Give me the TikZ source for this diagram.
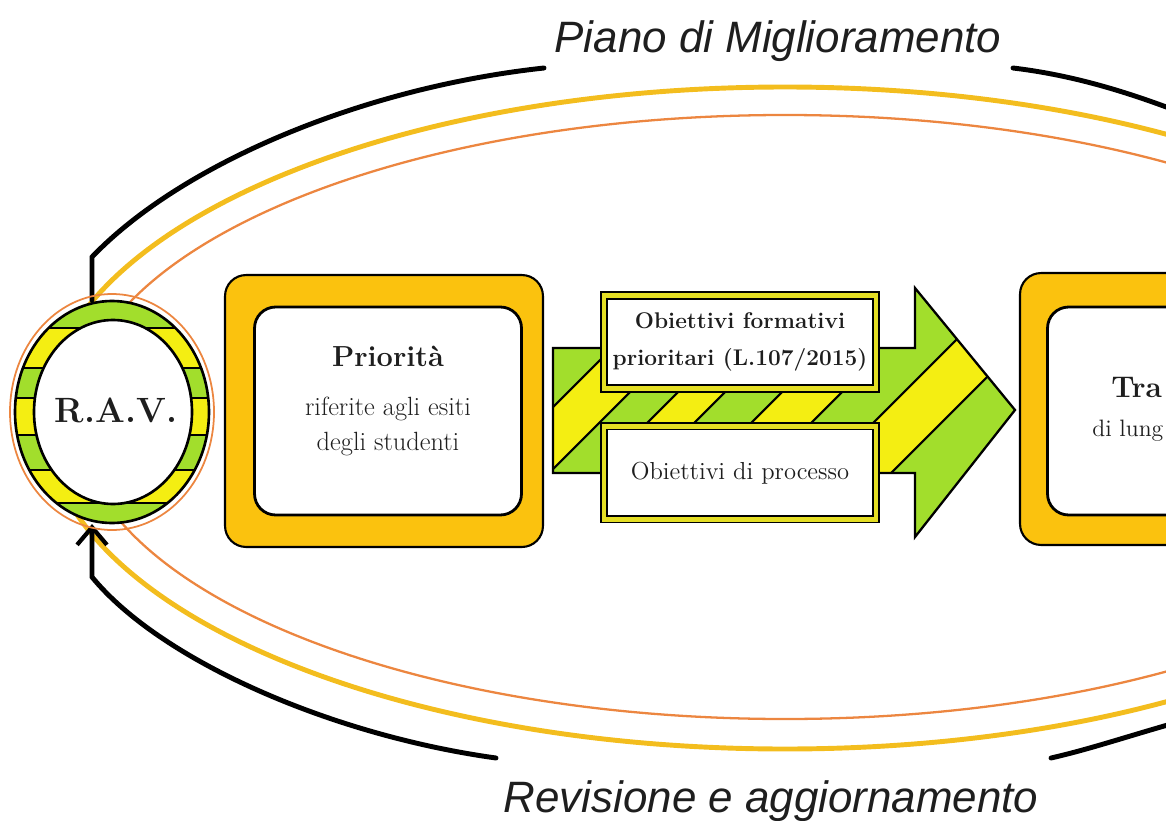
\documentclass[tikz,border=0pt]{standalone}
\usepackage{fontspec}
\newfontfamily\cyclefont{Liberation Sans}
\usetikzlibrary{arrows.meta,positioning,shapes.geometric}
\definecolor{frameyellow}{RGB}{251,194,14}
\definecolor{lime}{RGB}{162,222,44}
\definecolor{lemon}{RGB}{244,238,18}
\definecolor{bandyellow}{RGB}{228,222,36}
\definecolor{loopyellow}{RGB}{243,189,30}
\definecolor{looporange}{RGB}{236,134,64}
\definecolor{ink}{RGB}{30,30,30}
\tikzset{
    frame/.style={rectangle,rounded corners=12pt,draw,line width=1.2pt,fill=frameyellow,minimum width=6.36cm,minimum height=5.44cm},
    card/.style={rectangle,rounded corners=12pt,draw,line width=1.6pt,fill=white,minimum width=5.34cm,minimum height=4.16cm},
    cardtext/.style={align=center,text=ink,inner sep=0pt,font=\fontsize{15}{20}\selectfont},
    goal/.style={rectangle,draw,line width=1pt,double=bandyellow,double distance=2.6pt,fill=white,minimum width=5.44cm,minimum height=1.86cm,align=center,text=ink,font=\fontsize{14}{21}\selectfont},
    ravtext/.style={text=ink,inner sep=0pt,font=\bfseries\fontsize{20}{24}\selectfont},
    fragment/.style={anchor=base west,inner sep=0pt,text=ink},
    ringline/.style={line width=2.8pt},
    cycleline/.style={line width=2.8pt,line cap=round},
    back/.style={cycleline,-{Straight Barb[length=10pt,width=17pt,line width=2.4pt]}},
    caption/.style={anchor=base,text=ink,font=\cyclefont\itshape\fontsize{25}{30}\selectfont}
}

\begin{document}
\begin{tikzpicture}[x=0.02cm,y=-0.02cm]
    \useasboundingbox (0,0) rectangle (1166,821);
    \clip (0,0) rectangle (1166,821);

    % the two rings of the cycle
    \draw[ringline,loopyellow] (785,418) ellipse [x radius=740,y radius=331];
    \draw[ringline,looporange,line width=1.3pt] (785,417) ellipse [x radius=708,y radius=302];

    \coordinate (rav top)   at (92,300);
    \coordinate (rav foot)  at (92,524);
    \coordinate (plan left) at (544,68);
    \coordinate (plan right) at (1013,68);
    \coordinate (plan out)  at (1200,120);
    \coordinate (rev in)    at (1200,716);
    \coordinate (rev right) at (1051,758);
    \coordinate (rev left)  at (496,758);

    \node[caption] (plan) at (778,53)  {Piano di Miglioramento};
    \node[caption] (rev)  at (771,812) {Revisione e aggiornamento};

    \draw[cycleline] (rav top) -- ++(0,-43) .. controls (180,165) and (360,88) .. (plan left);
    \draw[cycleline] (plan right) .. controls (1080,76) and (1140,96) .. (plan out);
    \draw[cycleline] (rev in) .. controls (1140,732) and (1095,748) .. (rev right);
    \draw[back] (rev left) .. controls (330,735) and (160,660) .. (92,577) -- (rav foot);

    % striped ring
    \begin{scope}
        \clip (112,412) ellipse [x radius=97,y radius=111];
        \foreach \lo/\hi/\col in {290/328/lime,328/368/lemon,368/398/lime,398/435/lemon,435/470/lime,470/503/lemon,503/535/lime}
            \fill[\col] (0,\lo) rectangle (230,\hi);
        \foreach \y in {328,368,398,435,470,503}
            \draw[line width=1.3pt] (0,\y) -- (230,\y);
    \end{scope}
    \draw[line width=1.5pt] (112,412) ellipse [x radius=97,y radius=111];
    \draw[looporange,line width=1pt] (112,412) ellipse [x radius=102,y radius=118];
    \draw[line width=1.5pt,fill=white] (113,412) ellipse [x radius=79,y radius=92];
    \node[ravtext] (rav) at (116,410) {R.A.V.};

    \node[frame] (prio frame) at (384,411) {};
    \node[card]  (prio card) at (388,411) {};
    \node[cardtext] (prio) at (388,401) {{\bfseries\fontsize{16.5}{19}\selectfont Priorità}\\[8pt]
        riferite agli esiti\\ degli studenti};

    % striped arrow
    \begin{scope}
        \clip (553,348) -- (915,348) -- (915,288) -- (1015,410) -- (915,537) -- (915,473) -- (553,473) -- cycle;
        \fill[lime] (540,280) rectangle (1020,540);
        \foreach \lo/\hi in {960/1022,1296/1364}
            \fill[lemon] ({\lo-250},250) -- ({\lo-600},600) -- ({\hi-600},600) -- ({\hi-250},250) -- cycle;
        \foreach \c in {960,1022,1296,1364}
            \draw[line width=1.2pt] ({\c-250},250) -- ({\c-600},600);
        % small stripes in the gap between the two boxes
        \clip (600,390) rectangle (885,426);
        \foreach \lo/\hi in {1070/1117,1174/1234}
            \fill[lemon] ({\lo-250},250) -- ({\lo-600},600) -- ({\hi-600},600) -- ({\hi-250},250) -- cycle;
        \foreach \c in {1070,1117,1174,1234}
            \draw[line width=1.2pt] ({\c-250},250) -- ({\c-600},600);
    \end{scope}
    \draw[line width=1.3pt,line join=miter] (553,348) -- (915,348) -- (915,288) -- (1015,410)
        -- (915,537) -- (915,473) -- (553,473) -- cycle;

    \node[goal,font=\bfseries\fontsize{12.9}{21}\selectfont] (goal 1) at (740,342)
        {Obiettivi formativi\\ prioritari (L.107/2015)};
    \node[goal] (goal 2) [below=0.72cm of goal 1] {Obiettivi di processo};

    \node[frame] (trag frame) at (1179,409) {};
    \node[card]  (trag) at (1181,411) {};
    \node[fragment,font=\bfseries\fontsize{17}{20}\selectfont] (trag title) at (1111,397) {Tra};
    \node[fragment,font=\fontsize{13.5}{16}\selectfont] (trag span) at (1092,436) {di lung};

\end{tikzpicture}
\end{document}
